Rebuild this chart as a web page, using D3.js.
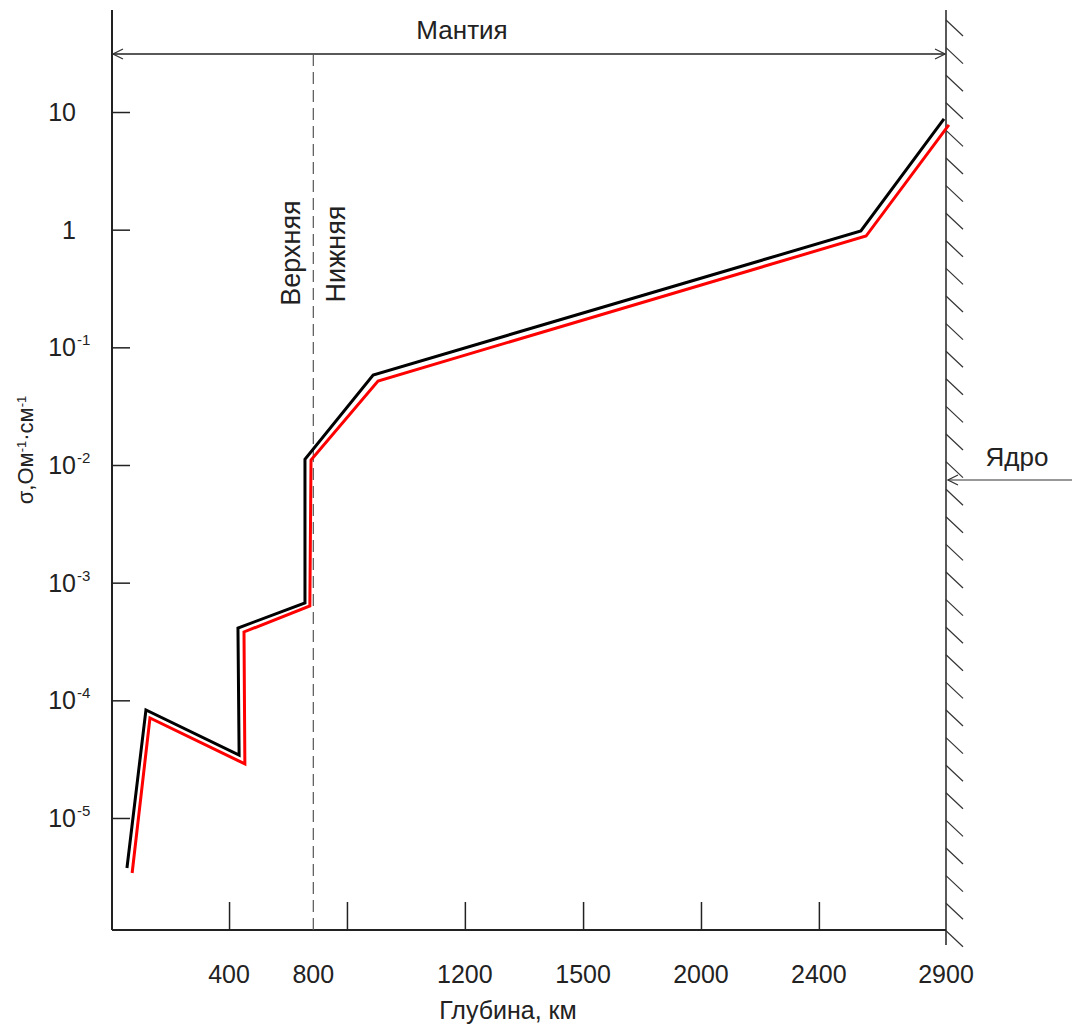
<!DOCTYPE html>
<html>
<head>
<meta charset="utf-8">
<script src="https://cdn.jsdelivr.net/npm/d3@7"></script>
<style>
  body { margin: 0; background: #fff; }
  svg { display: block; font-family: "Liberation Sans", Arial, sans-serif; }
</style>
</head>
<body>
<div id="chart"></div>
<script>
// depth (km) and conductivity (Ohm^-1 cm^-1)
var blackDepth = [52, 118, 442, 438, 671, 671, 908, 2604, 2893];
var blackSigma = [3.76e-6, 8.28e-5, 3.43e-5, 4.12e-4, 6.72e-4, 1.12e-2, 5.82e-2, 0.975, 8.73];
var redDepth = [70, 132, 462, 459, 688, 692, 925, 2622, 2910];
var redSigma = [3.41e-6, 7.08e-5, 2.88e-5, 3.81e-4, 6.34e-4, 1.10e-2, 5.18e-2, 0.883, 7.76];

var xTickDepths = [407, 817, 1227, 1638, 2048, 2458];
var xLabelDepths = [407, 700, 1227, 1638, 2048, 2458, 2900];
var xLabels = ["400", "800", "1200", "1500", "2000", "2400", "2900"];
var yTicks = [10, 1, 1e-1, 1e-2, 1e-3, 1e-4, 1e-5];
var yLabels = [["10", ""], ["1", ""], ["10", "-1"], ["10", "-2"], ["10", "-3"], ["10", "-4"], ["10", "-5"]];
var boundaryDepth = 700;   // upper / lower mantle
var coreDepth = 2900;

var W = 1072, H = 1027;
var svg = d3.select("#chart").append("svg")
    .attr("width", W)
    .attr("height", H);

var x = d3.scaleLinear().domain([0, 2900]).range([112, 946]);
var y = d3.scaleLog().domain([Math.pow(10, -5.952), Math.pow(10, 1.867)]).range([930, 10]);

var defs = svg.append("defs");
function arrowMarker(id, orient)
{
    defs.append("marker")
        .attr("id", id)
        .attr("viewBox", "0 0 12 12")
        .attr("refX", 11).attr("refY", 6)
        .attr("markerWidth", 12).attr("markerHeight", 12)
        .attr("markerUnits", "userSpaceOnUse")
        .attr("orient", orient)
      .append("path")
        .attr("d", "M1,1 L11,6 L1,11")
        .attr("fill", "none")
        .attr("stroke", "#333")
        .attr("stroke-width", 1.2);
}
arrowMarker("arrEnd", "auto");
arrowMarker("arrStart", "auto-start-reverse");

// axes frame
svg.append("line")
    .attr("x1", x(0)).attr("x2", x(0))
    .attr("y1", 10).attr("y2", 930)
    .attr("stroke", "#222").attr("stroke-width", 2);
svg.append("line")
    .attr("x1", x(0)).attr("x2", x(coreDepth))
    .attr("y1", 930).attr("y2", 930)
    .attr("stroke", "#222").attr("stroke-width", 2);

var yAxis = d3.axisRight(y).tickValues(yTicks).tickSize(18).tickFormat("");
svg.append("g")
    .attr("transform", "translate(" + x(0) + ",0)")
    .call(yAxis)
    .call(g => g.select(".domain").remove())
    .selectAll("line").attr("stroke", "#222").attr("stroke-width", 1.5);

var xAxis = d3.axisTop(x).tickValues(xTickDepths).tickSize(28).tickFormat("");
svg.append("g")
    .attr("transform", "translate(0,930)")
    .call(xAxis)
    .call(g => g.select(".domain").remove())
    .selectAll("line").attr("stroke", "#222").attr("stroke-width", 1.5);

// y tick labels with superscripts
var yl = svg.append("g").selectAll("g")
    .data(yTicks)
    .enter().append("g");
yl.append("text")
    .attr("x", 76)
    .attr("y", d => y(d) + 9)
    .attr("text-anchor", "end")
    .attr("font-size", 25)
    .attr("fill", "#222")
    .text((d, i) => yLabels[i][0]);
yl.append("text")
    .attr("x", 77)
    .attr("y", d => y(d) - 2)
    .attr("font-size", 15)
    .attr("fill", "#222")
    .text((d, i) => yLabels[i][1]);

// x tick labels
svg.append("g").selectAll("text")
    .data(xLabels)
    .enter().append("text")
    .attr("x", (d, i) => x(xLabelDepths[i]))
    .attr("y", 983)
    .attr("text-anchor", "middle")
    .attr("font-size", 25)
    .attr("fill", "#222")
    .text(d => d);

svg.append("text")
    .attr("x", 508).attr("y", 1019)
    .attr("text-anchor", "middle")
    .attr("font-size", 25)
    .attr("fill", "#222")
    .text("Глубина, км");

// y axis title
var yt = svg.append("text")
    .attr("transform", "translate(33,450) rotate(-90)")
    .attr("text-anchor", "middle")
    .attr("font-size", 22)
    .attr("fill", "#222");
yt.append("tspan").text("σ,Ом");
yt.append("tspan").attr("baseline-shift", "super").attr("font-size", 13).text("-1");
yt.append("tspan").text("·см");
yt.append("tspan").attr("baseline-shift", "super").attr("font-size", 13).text("-1");

// core boundary with hatching
svg.append("line")
    .attr("x1", x(coreDepth)).attr("x2", x(coreDepth))
    .attr("y1", 10).attr("y2", 945)
    .attr("stroke", "#222").attr("stroke-width", 1.5);
svg.append("g").selectAll("line")
    .data(d3.range(20, 935, 27.6))
    .enter().append("line")
    .attr("x1", x(coreDepth)).attr("y1", d => d)
    .attr("x2", x(coreDepth) + 17).attr("y2", d => d + 16)
    .attr("stroke", "#333").attr("stroke-width", 1.2);

// mantle span arrow
svg.append("line")
    .attr("x1", x(0) + 1).attr("x2", x(coreDepth) - 1)
    .attr("y1", 54).attr("y2", 54)
    .attr("stroke", "#222").attr("stroke-width", 1.3)
    .attr("marker-start", "url(#arrStart)")
    .attr("marker-end", "url(#arrEnd)");
svg.append("text")
    .attr("x", 462).attr("y", 39)
    .attr("text-anchor", "middle")
    .attr("font-size", 26)
    .attr("fill", "#222")
    .text("Мантия");

// upper / lower mantle boundary
svg.append("line")
    .attr("x1", x(boundaryDepth)).attr("x2", x(boundaryDepth))
    .attr("y1", 54).attr("y2", 930)
    .attr("stroke", "#555").attr("stroke-width", 1.2)
    .attr("stroke-dasharray", "12,6");
svg.append("text")
    .attr("transform", "translate(" + (x(boundaryDepth) - 13) + ",253) rotate(-90)")
    .attr("text-anchor", "middle")
    .attr("font-size", 27)
    .attr("fill", "#222")
    .text("Верхняя");
svg.append("text")
    .attr("transform", "translate(" + (x(boundaryDepth) + 32) + ",254) rotate(-90)")
    .attr("text-anchor", "middle")
    .attr("font-size", 27)
    .attr("fill", "#222")
    .text("Нижняя");

// core arrow
svg.append("line")
    .attr("x1", W).attr("x2", x(coreDepth) + 2)
    .attr("y1", 480).attr("y2", 480)
    .attr("stroke", "#333").attr("stroke-width", 1.2)
    .attr("marker-end", "url(#arrEnd)");
svg.append("text")
    .attr("x", 1017).attr("y", 466)
    .attr("text-anchor", "middle")
    .attr("font-size", 26)
    .attr("fill", "#222")
    .text("Ядро");

// conductivity curves
var line = d3.line().x(d => x(d[0])).y(d => y(d[1]));
svg.append("path")
    .datum(blackDepth.map((d, i) => [d, blackSigma[i]]))
    .attr("d", line)
    .attr("fill", "none")
    .attr("stroke", "#000")
    .attr("stroke-width", 3)
    .attr("stroke-linejoin", "miter");
svg.append("path")
    .datum(redDepth.map((d, i) => [d, redSigma[i]]))
    .attr("d", line)
    .attr("fill", "none")
    .attr("stroke", "#ff0000")
    .attr("stroke-width", 3)
    .attr("stroke-linejoin", "miter");
</script>
</body>
</html>
